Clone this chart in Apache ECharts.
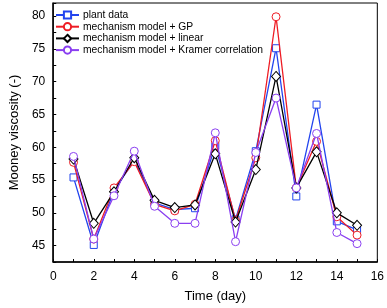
<!DOCTYPE html>
<html><head><meta charset="utf-8">
<script src="https://cdn.jsdelivr.net/npm/echarts@6/dist/echarts.min.js"></script>
<style>html,body{margin:0;padding:0;background:#fff}#c{width:387px;height:308px}</style>
</head><body><div id="c"></div>
<script>
var days = [1,2,3,4,5,6,7,8,9,10,11,12,13,14,15];
var plantData = [55.4,45.1,53.4,58.0,51.5,50.5,50.7,60.2,49.0,59.4,75.1,52.5,66.5,48.7,47.4];
var gpModel = [57.7,46.0,53.8,57.8,51.3,50.3,51.3,61.0,48.8,58.4,79.9,53.8,60.9,49.4,46.6];
var linearModel = [58.2,48.4,53.2,58.4,51.9,50.8,51.2,59.0,48.6,56.6,70.8,53.8,59.3,50.0,48.1];
var kramerModel = [58.6,46.0,52.6,59.4,51.0,48.4,48.4,62.2,45.6,59.2,67.5,53.8,62.1,47.0,45.3];
var seriesNames = ['plant data','mechanism model + GP','mechanism model + linear','mechanism model + Kramer correlation'];
var colors = ['#2244ee','#ee1c24','#000000','#8a3ff0'];
var symbols = ['rect','circle','diamond','circle'];
var sizes = [7,8,[9,10],8];
var all = [plantData,gpModel,linearModel,kramerModel];
function pairs(v){return days.map(function(d,i){return [d,v[i]];});}
var font = 'Liberation Sans, Arial, sans-serif';
var chart = echarts.init(document.getElementById('c'));
chart.setOption({
  animation:false,
  grid:{left:43,right:8,top:3,bottom:40,show:true,borderColor:'#000',borderWidth:1,backgroundColor:'transparent'},
  legend:{
    orient:'vertical',left:50,top:5,itemWidth:23,itemHeight:9,itemGap:1.7,
    textStyle:{fontSize:10.3,fontFamily:font,color:'#000',padding:[0,0,0,-1]},
    data:seriesNames
  },
  xAxis:{type:'value',min:0,max:16,interval:1,
    name:'Time (day)',nameLocation:'middle',nameGap:28,
    nameTextStyle:{fontSize:13,fontFamily:font,color:'#000'},
    axisLine:{lineStyle:{color:'#000',width:1.5}},
    axisTick:{inside:true,length:3,lineStyle:{color:'#000'}},
    axisLabel:{fontSize:12,fontFamily:font,color:'#000',margin:9,
      formatter:function(v){return v%2===0?String(v):'';}},
    splitLine:{show:false}},
  yAxis:{type:'value',min:42.5,max:82,interval:2.5,
    name:'Mooney viscosity (-)',nameLocation:'middle',nameGap:31,
    nameTextStyle:{fontSize:13,fontFamily:font,color:'#000'},
    axisLine:{show:true,lineStyle:{color:'#000',width:1.5}},
    axisTick:{inside:true,length:3,lineStyle:{color:'#000'}},
    axisLabel:{fontSize:12,fontFamily:font,color:'#000',margin:8,
      formatter:function(v){return (Math.abs(v%5)<1e-9)?String(v):'';}},
    splitLine:{show:false}},
  series:all.map(function(v,i){
    return {name:seriesNames[i],type:'line',data:pairs(v),
      symbol:symbols[i],symbolSize:sizes[i],showAllSymbol:true,
      lineStyle:{color:colors[i],width:1.3},
      itemStyle:{color:'#ffffff',borderColor:colors[i],borderWidth:1,opacity:1},
      emphasis:{disabled:true},
      z:2+i};
  })
});
</script></body></html>
